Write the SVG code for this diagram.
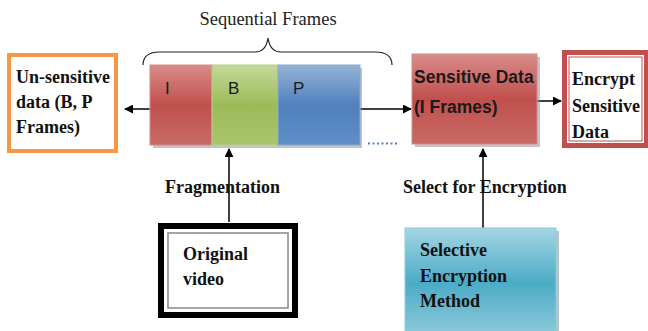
<svg xmlns="http://www.w3.org/2000/svg" width="648" height="331" viewBox="0 0 648 331">
<defs>
<style>
.serifb{font-family:"Liberation Serif","Times New Roman",serif;font-weight:bold;font-size:18px;fill:#111}
.sans{font-family:"Liberation Sans",Arial,sans-serif;font-size:17px;fill:#1a1a1a}
.sansb{font-family:"Liberation Sans",Arial,sans-serif;font-weight:bold;font-size:17.5px;fill:#1a1a1a}
.conn{stroke:#000;stroke-width:1.5;fill:none}
</style>
<linearGradient id="gRed" x1="0" y1="0" x2="0" y2="1">
<stop offset="0" stop-color="#d98c8a"/><stop offset="0.5" stop-color="#c0504d"/><stop offset="1" stop-color="#c86a67"/>
</linearGradient>
<linearGradient id="gGreen" x1="0" y1="0" x2="0" y2="1">
<stop offset="0" stop-color="#c4d99a"/><stop offset="0.5" stop-color="#9bbb59"/><stop offset="1" stop-color="#a9c56d"/>
</linearGradient>
<linearGradient id="gBlue" x1="0" y1="0" x2="0" y2="1">
<stop offset="0" stop-color="#95b3d7"/><stop offset="0.5" stop-color="#4f81bd"/><stop offset="1" stop-color="#5f8ec6"/>
</linearGradient>
<linearGradient id="gTeal" x1="0" y1="0" x2="0" y2="1">
<stop offset="0" stop-color="#a5d5e3"/><stop offset="0.5" stop-color="#4bacc6"/><stop offset="1" stop-color="#92cbdc"/>
</linearGradient>
<marker id="ah" viewBox="0 0 10 10" refX="9" refY="5" markerWidth="9" markerHeight="9" markerUnits="userSpaceOnUse" orient="auto">
<path d="M0,0 L10,5 L0,10 z" fill="#000"/>
</marker>
</defs>
<rect width="648" height="331" fill="#fff"/>

<g id="connectors">
<line class="conn" x1="300" y1="109" x2="125" y2="109" marker-end="url(#ah)"/>
<line class="conn" x1="300" y1="109" x2="411" y2="109" marker-end="url(#ah)"/>
<line class="conn" x1="537" y1="101" x2="561" y2="101" marker-end="url(#ah)"/>
<line class="conn" x1="229" y1="222" x2="229" y2="149" marker-end="url(#ah)"/>
<line class="conn" x1="483" y1="228" x2="483" y2="149" marker-end="url(#ah)"/>
</g>

<g id="brace">
<path d="M143,65 Q143,52 160,52 L255,52 Q266,52 268,38 Q270,52 281,52 L375,52 Q392,52 392,65" fill="none" stroke="#222" stroke-width="1.2"/>
<text x="268" y="25" text-anchor="middle" style="font-family:'Liberation Serif','Times New Roman',serif;font-size:18.5px;fill:#222">Sequential Frames</text>
</g>

<g id="frames">
<rect x="153" y="68" width="209" height="80" fill="#7a7a7a" opacity="0.45"/>
<rect x="150" y="65" width="62" height="80" fill="url(#gRed)" stroke="#d48986" stroke-width="1"/>
<rect x="212" y="65" width="66" height="80" fill="url(#gGreen)" stroke="#b5cf83" stroke-width="1"/>
<rect x="278" y="65" width="82" height="80" fill="url(#gBlue)" stroke="#8aaad2" stroke-width="1"/>
<text class="sans" x="165" y="94">I</text>
<text class="sans" x="228" y="94">B</text>
<text class="sans" x="293" y="94">P</text>
<line x1="368" y1="143.5" x2="398" y2="143.5" stroke="#4f81bd" stroke-width="2" stroke-dasharray="2,2.5"/>
</g>

<g id="unsensitive">
<rect x="9" y="55" width="107" height="96" fill="#fff" stroke="#f79646" stroke-width="4"/>
<text class="serifb" x="16" y="83">Un-sensitive</text>
<text class="serifb" x="16" y="108">data (B, P</text>
<text class="serifb" x="16" y="133">Frames)</text>
</g>

<g id="sensitive">
<rect x="415" y="57" width="125" height="90" fill="#8a8a8a" opacity="0.5"/>
<rect x="412" y="54" width="125" height="90" fill="url(#gRed)" stroke="#d48986" stroke-width="1"/>
<text class="sansb" x="414" y="83">Sensitive Data</text>
<text class="sansb" x="414" y="113">(I Frames)</text>
</g>

<g id="encrypt">
<rect x="564.5" y="52.5" width="82" height="93" fill="#fff" stroke="#c0504d" stroke-width="5"/>
<rect x="569" y="57" width="73" height="84" fill="none" stroke="#c0504d" stroke-width="1"/>
<text class="serifb" x="572" y="85">Encrypt</text>
<text class="serifb" x="572" y="112">Sensitive</text>
<text class="serifb" x="572" y="138">Data</text>
</g>

<g id="fragmentation">
<text class="serifb" x="165" y="193">Fragmentation</text>
</g>

<g id="original">
<rect x="161" y="226" width="134" height="89" fill="#fff" stroke="#000" stroke-width="6"/>
<rect x="168" y="233" width="120" height="75" fill="none" stroke="#888" stroke-width="1.5"/>
<text class="serifb" x="183" y="260">Original</text>
<text class="serifb" x="183" y="285">video</text>
</g>

<g id="select">
<text class="serifb" x="403" y="193">Select for Encryption</text>
</g>

<g id="method">
<rect x="408" y="231" width="151" height="110" fill="#6a8a95" opacity="0.5"/>
<rect x="405" y="228" width="151" height="110" fill="url(#gTeal)" stroke="#8ccbdc" stroke-width="1"/>
<text class="serifb" x="420" y="256">Selective</text>
<text class="serifb" x="420" y="282">Encryption</text>
<text class="serifb" x="420" y="307">Method</text>
</g>
</svg>
